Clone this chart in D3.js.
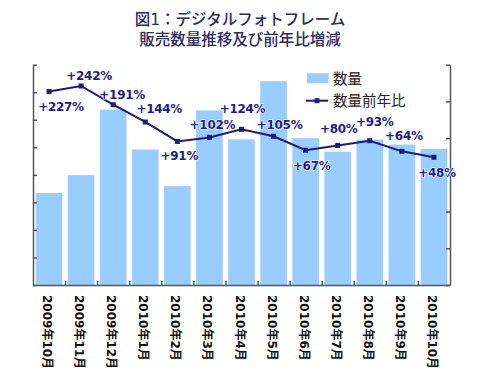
<!DOCTYPE html>
<html>
<head>
<meta charset="utf-8">
<script src="https://cdn.jsdelivr.net/npm/d3@7"></script>
<style>
  body { margin: 0; background: #fff; }
  text { font-family: "DejaVu Sans", "Noto Sans CJK JP", sans-serif; }
</style>
</head>
<body>
<div id="container"></div>
<script>
// data
var months = ['2009年10月', '2009年11月', '2009年12月', '2010年1月', '2010年2月', '2010年3月', '2010年4月',
              '2010年5月', '2010年6月', '2010年7月', '2010年8月', '2010年9月', '2010年10月'];
var volume = [3.34, 3.99, 6.37, 4.92, 3.59, 6.34, 5.29, 7.40, 5.33, 4.84, 5.28, 5.10, 4.94];
var yoy = [227, 242, 191, 144, 91, 102, 124, 105, 67, 80, 93, 64, 48];
var titleLines = ['図1：デジタルフォトフレーム', '販売数量推移及び前年比増減'];
var legendNames = ['数量', '数量前年比'];

// where each percentage label sits relative to its point
var labelDx = [12, 8, 9, 14, 2, 3, 1, 6, 6, 1, 5, 2, 3];
var labelDy = [15, -10, -10, -13, 15, -12, -20, -11, 16, -16, -19, -15, 16];

var plotLeft = 33, plotRight = 450, plotTop = 64.7, plotBottom = 285;

var svg = d3.select('#container').append('svg')
    .attr('width', 480)
    .attr('height', 384);

svg.selectAll('text.title')
    .data(titleLines)
    .enter().append('text')
    .attr('class', 'title')
    .attr('x', 240)
    .attr('y', function (d, i) { return 25 + i * 19.5; })
    .attr('text-anchor', 'middle')
    .attr('font-family', '"Noto Sans CJK JP", sans-serif')
    .attr('font-size', 15.5)
    .attr('font-weight', 500)
    .attr('fill', '#2b2b5e')
    .text(function (d) { return d; });

var x = d3.scaleBand().domain(months).range([plotLeft, plotRight]).paddingInner(0.17).paddingOuter(0.085);
var xIdx = d3.scaleLinear().domain([0, months.length]).range([plotLeft, plotRight]);
var yBar = d3.scaleLinear().domain([0, 8]).range([plotBottom, plotTop]);
var yPct = d3.scaleLinear().domain([-300, 300]).range([plotBottom, plotTop]);

// bars
svg.selectAll('rect.bar')
    .data(volume)
    .enter().append('rect')
    .attr('class', 'bar')
    .attr('x', function (d, i) { return x(months[i]); })
    .attr('width', x.bandwidth())
    .attr('y', function (d) { return yBar(d); })
    .attr('height', function (d) { return plotBottom - yBar(d); })
    .attr('fill', '#99ccff');

// axes
function styleAxis(g) {
    g.selectAll('path, line').attr('stroke', '#555').attr('stroke-width', 1.5);
    g.selectAll('text').remove();
}

svg.append('g')
    .attr('transform', 'translate(' + plotLeft + ',0)')
    .call(d3.axisLeft(yBar).ticks(8).tickSizeInner(-4).tickSizeOuter(0))
    .call(styleAxis);

svg.append('g')
    .attr('transform', 'translate(' + plotRight + ',0)')
    .call(d3.axisRight(yPct).ticks(6).tickSizeInner(-4).tickSizeOuter(0))
    .call(styleAxis);

svg.append('g')
    .attr('transform', 'translate(0,' + plotBottom + ')')
    .call(d3.axisBottom(xIdx).tickValues(d3.range(1, months.length)).tickSizeInner(-4).tickSizeOuter(0))
    .call(styleAxis);

// month labels, turned a quarter clockwise
svg.selectAll('text.month')
    .data(months)
    .enter().append('text')
    .attr('class', 'month')
    .attr('transform', function (d) {
        return 'translate(' + (x(d) + x.bandwidth() / 2 - 2) + ',' + (plotBottom + 10) + ') rotate(90)';
    })
    .attr('dominant-baseline', 'central')
    .attr('font-size', 12)
    .attr('font-weight', 'bold')
    .attr('fill', '#111')
    .text(function (d) { return d; });

// year-on-year line
var cx = function (i) { return x(months[i]) + x.bandwidth() / 2; };
var line = d3.line()
    .x(function (d, i) { return cx(i); })
    .y(function (d) { return yPct(d); });

svg.append('path')
    .datum(yoy)
    .attr('d', line)
    .attr('fill', 'none')
    .attr('stroke', '#1a1a80')
    .attr('stroke-width', 2);

svg.selectAll('rect.marker')
    .data(yoy)
    .enter().append('rect')
    .attr('class', 'marker')
    .attr('x', function (d, i) { return cx(i) - 2.5; })
    .attr('y', function (d) { return yPct(d) - 2.5; })
    .attr('width', 5)
    .attr('height', 5)
    .attr('fill', '#1a1a80');

svg.selectAll('text.pct')
    .data(yoy)
    .enter().append('text')
    .attr('class', 'pct')
    .attr('x', function (d, i) { return cx(i) + labelDx[i]; })
    .attr('y', function (d, i) { return yPct(d) + labelDy[i]; })
    .attr('text-anchor', 'middle')
    .attr('dominant-baseline', 'central')
    .attr('font-size', 12)
    .attr('font-weight', 'bold')
    .attr('letter-spacing', -0.3)
    .attr('fill', '#1c1c8c')
    .attr('stroke', '#fff')
    .attr('stroke-width', 1.2)
    .attr('paint-order', 'stroke')
    .text(function (d) { return '+' + d + '%'; });

// legend
var lg = svg.append('g');
lg.append('rect')
    .attr('x', 307).attr('y', 73.3)
    .attr('width', 21.5).attr('height', 10)
    .attr('fill', '#99ccff');
lg.append('line')
    .attr('x1', 306).attr('x2', 328)
    .attr('y1', 100.7).attr('y2', 100.7)
    .attr('stroke', '#1a1a80').attr('stroke-width', 2);
lg.append('rect')
    .attr('x', 314.5).attr('y', 98.2)
    .attr('width', 5).attr('height', 5)
    .attr('fill', '#1a1a80');
lg.selectAll('text')
    .data(legendNames)
    .enter().append('text')
    .attr('x', 333)
    .attr('y', function (d, i) { return 78.5 + i * 22.5; })
    .attr('dominant-baseline', 'central')
    .attr('font-family', '"Noto Sans CJK JP", sans-serif')
    .attr('font-size', 14.5)
    .attr('fill', '#222')
    .text(function (d) { return d; });
</script>
</body>
</html>
